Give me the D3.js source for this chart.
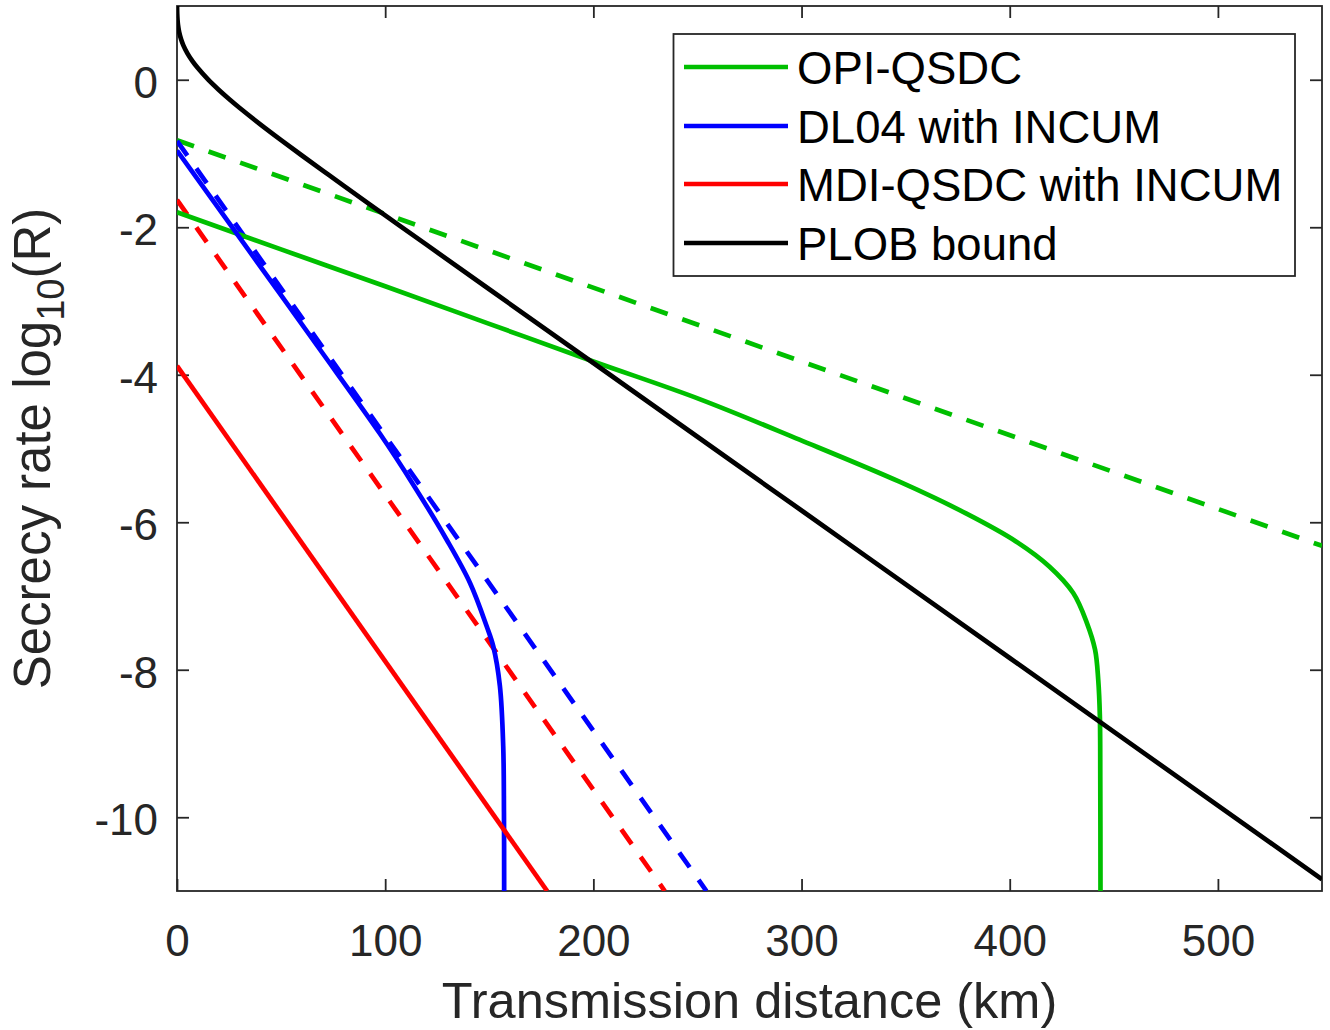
<!DOCTYPE html>
<html>
<head>
<meta charset="utf-8">
<script src="https://cdn.jsdelivr.net/npm/d3@7"></script>
<style>
  html, body { margin: 0; padding: 0; background: #fff; }
  svg { display: block; font-family: "Liberation Sans", Arial, Helvetica, sans-serif; }
</style>
</head>
<body>
<svg id="chart" width="1330" height="1030"></svg>
<script>
// ---------- data ----------
const xTicks = [0, 100, 200, 300, 400, 500];
const yTicks = [0, -2, -4, -6, -8, -10];
const xLabel = "Transmission distance (km)";

const plobDist = [0.02, 0.05, 0.1, 0.25, 0.5, 1, 2, 3, 5, 7.5, 10, 15, 20, 25, 30, 40, 50, 60, 70, 80, 100, 120, 150, 200, 300, 400, 550];
const plobRate = [1.004, 0.943, 0.890, 0.810, 0.737, 0.651, 0.545, 0.470, 0.358, 0.249, 0.158, 0.001, -0.135, -0.261, -0.380, -0.604, -0.818, -1.027, -1.232, -1.435, -1.839, -2.240, -2.841, -3.841, -5.841, -7.841, -10.841];

const opiDist = [0, 50, 100, 150, 200, 251, 299, 347, 379, 403, 419, 430.5, 437, 441, 442.5, 443.3, 443.5, 443.6];
const opiRate = [-1.795, -2.30, -2.80, -3.31, -3.82, -4.33, -4.88, -5.45, -5.88, -6.26, -6.60, -6.96, -7.36, -7.73, -8.13, -8.63, -9.5, -11];
const opiDashDist = [0, 550];
const opiDashRate = [-0.82, -6.32];

const dl04Dist = [0, 28.8, 67.2, 97.5, 113.5, 129.4, 140.7, 148.75, 151.9, 155.1, 156.7, 157.06, 157.15];
const dl04Rate = [-0.96, -2.09, -3.60, -4.80, -5.49, -6.23, -6.82, -7.41, -7.68, -8.22, -9.04, -9.94, -11];
const dl04DashDist = [0, 254.3];
const dl04DashRate = [-0.83, -11];

const mdiDist = [0, 177.8];
const mdiRate = [-3.88, -11];
const mdiDashDist = [0, 234.3];
const mdiDashRate = [-1.63, -11];

const legendNames = ["OPI-QSDC", "DL04 with INCUM", "MDI-QSDC with INCUM", "PLOB bound"];
const seriesColors = ["#00bf00", "#0000ff", "#ff0000", "#000000"];

// ---------- layout ----------
const svg = d3.select("#chart");
const pL = 177, pT = 6, pR = 1322, pB = 891;
const axisColor = "#262626";

const x = d3.scaleLinear().domain([0, 550]).range([pL, pR]);
const y = d3.scaleLinear().domain([-11, 1]).range([pB, pT]);

svg.append("defs").append("clipPath").attr("id", "plotclip")
  .append("rect").attr("x", pL).attr("y", pT).attr("width", pR - pL).attr("height", pB - pT);

// ---------- axes ----------
const tickLen = 12;
const fmt = d => String(d);
const xAxisB = d3.axisBottom(x).tickValues(xTicks).tickSizeInner(-tickLen).tickSizeOuter(0).tickPadding(0).tickFormat(fmt);
const xAxisT = d3.axisTop(x).tickValues(xTicks).tickSizeInner(-tickLen).tickSizeOuter(0).tickFormat("");
const yAxisL = d3.axisLeft(y).tickValues(yTicks).tickSizeInner(-tickLen).tickSizeOuter(0).tickFormat(fmt);
const yAxisR = d3.axisRight(y).tickValues(yTicks).tickSizeInner(-tickLen).tickSizeOuter(0).tickFormat("");

function styleAxis(g) {
  g.select(".domain").remove();
  g.selectAll(".tick line").attr("stroke", axisColor).attr("stroke-width", 1.8);
  g.selectAll("text").attr("fill", axisColor).attr("font-size", 44).attr("font-family", "Liberation Sans, Arial, sans-serif");
}

const gxb = svg.append("g").attr("transform", `translate(0,${pB})`).call(xAxisB).call(styleAxis);
gxb.selectAll("text").attr("dy", null).attr("y", 65);
svg.append("g").attr("transform", `translate(0,${pT})`).call(xAxisT).call(styleAxis);
const gyl = svg.append("g").attr("transform", `translate(${pL},0)`).call(yAxisL).call(styleAxis);
gyl.selectAll("text").attr("x", -19).attr("dy", "0.4em");
svg.append("g").attr("transform", `translate(${pR},0)`).call(yAxisR).call(styleAxis);

svg.append("rect").attr("x", pL).attr("y", pT).attr("width", pR - pL).attr("height", pB - pT)
  .attr("fill", "none").attr("stroke", axisColor).attr("stroke-width", 1.8);

// axis titles
svg.append("text").attr("x", (pL + pR) / 2).attr("y", 1018).attr("text-anchor", "middle")
  .attr("font-size", 50.5).attr("fill", axisColor).text(xLabel);

const yl = svg.append("text").attr("transform", `translate(50,${(pT + pB) / 2}) rotate(-90)`)
  .attr("text-anchor", "middle").attr("font-size", 51).attr("fill", axisColor);
yl.append("tspan").text("Secrecy rate log");
yl.append("tspan").attr("font-size", 38).attr("dy", 14).text("10");
yl.append("tspan").attr("dy", -14).text("(R)");

// ---------- lines ----------
const line = d3.line().x(d => x(d[0])).y(d => y(d[1])).curve(d3.curveCatmullRom.alpha(0.5));
const plotG = svg.append("g").attr("clip-path", "url(#plotclip)");

function drawSeries(dist, rate, color, dashed) {
  const pts = dist.map((d, i) => [d, rate[i]]);
  plotG.append("path").datum(pts).attr("d", line)
    .attr("fill", "none").attr("stroke", color).attr("stroke-width", 4.7)
    .attr("stroke-dasharray", dashed ? "18,15.5" : null);
}

drawSeries(opiDashDist, opiDashRate, seriesColors[0], true);
drawSeries(dl04DashDist, dl04DashRate, seriesColors[1], true);
drawSeries(mdiDashDist, mdiDashRate, seriesColors[2], true);
drawSeries(opiDist, opiRate, seriesColors[0], false);
drawSeries(dl04Dist, dl04Rate, seriesColors[1], false);
drawSeries(mdiDist, mdiRate, seriesColors[2], false);
drawSeries(plobDist, plobRate, seriesColors[3], false);

// ---------- legend ----------
const lg = svg.append("g");
lg.append("rect").attr("x", 673.5).attr("y", 34).attr("width", 621.5).attr("height", 242)
  .attr("fill", "#fff").attr("stroke", axisColor).attr("stroke-width", 1.8);
const rowY = [67, 126, 184, 243];
legendNames.forEach((name, i) => {
  lg.append("line").attr("x1", 684).attr("x2", 788).attr("y1", rowY[i]).attr("y2", rowY[i])
    .attr("stroke", seriesColors[i]).attr("stroke-width", 4.7);
  lg.append("text").attr("x", 797).attr("y", rowY[i] + 17).attr("font-size", 45.5).attr("fill", "#000").text(name);
});
</script>
</body>
</html>
